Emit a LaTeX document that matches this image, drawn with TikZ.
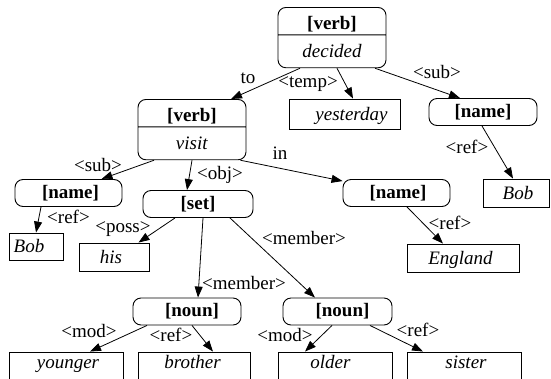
\documentclass[tikz,border=0pt]{standalone}
\usepackage{fontspec}
\setmainfont{Liberation Serif}
\usetikzlibrary{shapes.multipart,arrows.meta,calc}

\newcommand\dfont{\fontsize{19}{22}\selectfont}

\tikzset{
  rbox/.style={draw, line width=0.9pt, rounded corners=8pt, minimum height=27pt,
               inner sep=0pt, font=\dfont\bfseries},
  sbox/.style={draw, line width=0.9pt, inner xsep=0pt, inner ysep=4pt,
               text height=16pt, text depth=4pt, font=\dfont\itshape},
  lowbox/.style={sbox, text height=12pt, text depth=8pt},
  vbox/.style={rectangle split, rectangle split parts=2, draw, line width=0.9pt,
               rounded corners=8pt, minimum width=108pt, inner ysep=2pt,
               inner xsep=0pt, anchor=north},
  lbl/.style={inner sep=0pt, font=\dfont},
  link/.style={-{Triangle[length=11pt,width=8pt]}, line width=0.8pt},
}

\begin{document}
\begin{tikzpicture}[x=1pt, y=-1pt]
  \useasboundingbox (0,0) rectangle (551,378);

  % verb records
  \node[vbox] (v1) at (332,7)
    {\rule{0pt}{20pt}\textbf{\dfont[verb]}\nodepart{two}\rule[-8pt]{0pt}{28pt}\textit{\dfont decided}};
  \node[vbox] (v2) at (192,99)
    {\rule{0pt}{20pt}\textbf{\dfont[verb]}\nodepart{two}\rule[-8pt]{0pt}{28pt}\textit{\dfont visit}};

  % rounded category boxes
  \node[rbox, minimum width=108pt] (n1) at (483,112) {[name]};
  \node[rbox, minimum width=107pt] (n2) at (68.5,193) {\hspace*{4pt}[name]};
  \node[rbox, minimum width=110pt] (set) at (198,204) {[set]};
  \node[rbox, minimum width=107pt] (n3) at (396.5,193) {\hspace*{3pt}[name]};
  \node[rbox, minimum width=108pt] (nn1) at (187,311.5) {\hspace*{10pt}[noun]};
  \node[rbox, minimum width=109pt] (nn2) at (337.5,311.5) {\hspace*{10pt}[noun]};

  % word boxes
  \node[sbox, minimum width=111pt, minimum height=30pt] (yest) at (344.5,114) {\hspace*{14pt}yesterday};
  \node[sbox, minimum width=66pt] (bob1) at (516,193) {\hspace*{4pt}Bob};
  \node[sbox, minimum width=54pt, inner ysep=3.5pt] (bob2) at (36,246.5) {Bob\hspace*{14pt}};
  \node[sbox, minimum width=70pt] (his) at (114.5,257) {his\hspace*{7pt}};
  \node[sbox, minimum width=112pt] (eng) at (463,258) {England\hspace*{5pt}};
  \node[lowbox, minimum width=114pt] (yng) at (66,366) {\hspace*{4pt}younger};
  \node[lowbox, minimum width=112pt] (bro) at (194,366) {brother\hspace*{3pt}};
  \node[lowbox, minimum width=114pt] (old) at (335,366) {older\hspace*{9pt}};
  \node[lowbox, minimum width=114pt] (sis) at (464,366) {\hspace*{4pt}sister};

  % connectors
  \draw[link] ($(v1.south)+(-32,0)$) -- ($(v2.north)+(39,0)$);
  \draw[link] ($(v1.south)+(5,0)$) -- ($(yest.north)+(8.5,0)$);
  \draw[link] ($(v1.south)+(43,0)$) -- ($(n1.north)+(-23,0)$);
  \draw[link] ($(n1.south)+(-1,0)$) -- ($(bob1.north)+(-3,0)$);
  \draw[link] ($(v2.south)+(-38,0)$) -- ($(n2.north)+(33,0)$);
  \draw[link] (v2.south) -- ($(set.north)+(-11,0)$);
  \draw[link] ($(v2.south east)+(-6,0)$) -- ($(n3.north west)+(0,2)$);
  \draw[link] ($(n2.south)+(-27.5,0)$) -- (bob2.north);
  \draw[link] ($(set.south)+(-23,0)$) -- ($(his.north)+(24,0)$);
  \draw[link] ($(set.south)+(5,0)$) -- ($(nn1.north)+(11,0)$);
  \draw[link] ($(set.south)+(32,0)$) -- ($(nn2.north)+(-22.5,0)$);
  \draw[link] ($(n3.south)+(10.5,0)$) -- ($(eng.north)+(-20,0)$);
  \draw[link] ($(nn1.south)+(-40,0)$) -- ($(yng.north)+(24,0)$);
  \draw[link] ($(nn1.south)+(5,0)$) -- ($(bro.north)+(19,0)$);
  \draw[link] ($(nn2.south)+(-5.5,0)$) -- ($(old.north)+(-30,0)$);
  \draw[link] ($(nn2.south)+(32.5,0)$) -- ($(sis.north)+(-41,0)$);

  % edge labels
  \node[lbl] (lto) at (248,78) {to};
  \node[lbl] (ltemp) at (308,84) {<temp>};
  \node[lbl] (lsub1) at (437,72) {<sub>};
  \node[lbl] (lref1) at (467,147) {<ref>};
  \node[lbl] (lsub2) at (98,165) {<sub>};
  \node[lbl] (lobj) at (220,175) {<obj>};
  \node[lbl] (lin) at (280,153) {in};
  \node[lbl] (lref2) at (68.5,217) {<ref>};
  \node[lbl] (lposs) at (123,229) {<poss>};
  \node[lbl] (lmem1) at (244,283) {<member>};
  \node[lbl] (lmem2) at (304,238) {<member>};
  \node[lbl] (lref3) at (450,223) {<ref>};
  \node[lbl] (lmod1) at (89,331) {<mod>};
  \node[lbl] (lref4) at (171,335) {<ref>};
  \node[lbl] (lmod2) at (285,335) {<mod>};
  \node[lbl] (lref5) at (418,330) {<ref>};
\end{tikzpicture}
\end{document}
